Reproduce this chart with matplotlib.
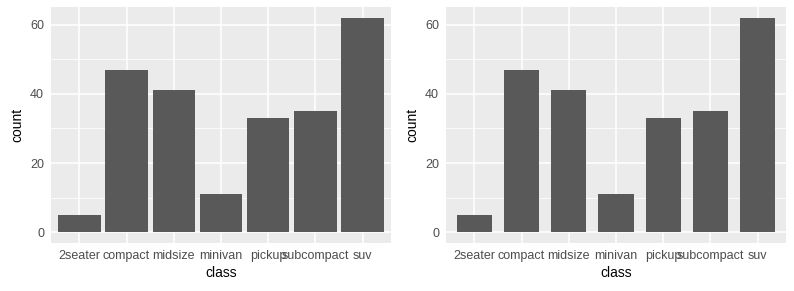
import numpy as np
import matplotlib
matplotlib.use("Agg")
import matplotlib.pyplot as plt

classes = ["2seater", "compact", "midsize", "minivan", "pickup", "subcompact", "suv"]
counts = [5, 47, 41, 11, 33, 35, 62]
bar_widths = [0.9, 0.75]  # left panel default width, right panel narrower

plt.rcParams['font.family'] = ['Liberation Sans', 'DejaVu Sans']

fig = plt.figure(figsize=(7.94, 2.91), dpi=100)
W, H = 794, 291
lefts = [51, 446]

x = np.arange(1, len(classes) + 1)
ymax = max(counts)

for left, bw in zip(lefts, bar_widths):
    ax = fig.add_axes([left / W, (H - 243) / H, 340 / W, 236 / H])
    ax.set_facecolor("#EBEBEB")
    ax.bar(x, counts, width=bw, color="#595959", zorder=3)
    ax.set_xlim(0.4, 7.6)
    ax.set_ylim(-0.05 * ymax, ymax * 1.05)
    ax.set_xticks(x)
    ax.set_xticklabels(classes)
    ax.set_yticks([0, 20, 40, 60])
    ax.set_yticks([10, 30, 50], minor=True)
    ax.grid(which="major", color="white", linewidth=1.1, zorder=0)
    ax.grid(which="minor", axis="y", color="white", linewidth=0.55, zorder=0)
    for s in ax.spines.values():
        s.set_visible(False)
    ax.tick_params(which="both", length=0, labelsize=9, labelcolor="#4D4D4D")
    ax.tick_params(axis="x", pad=5)
    ax.tick_params(axis="y", pad=5)
    ax.set_xlabel("class", fontsize=10, labelpad=3)
    ax.set_ylabel("count", fontsize=10, labelpad=4)

fig.savefig("out.png", dpi=100)
